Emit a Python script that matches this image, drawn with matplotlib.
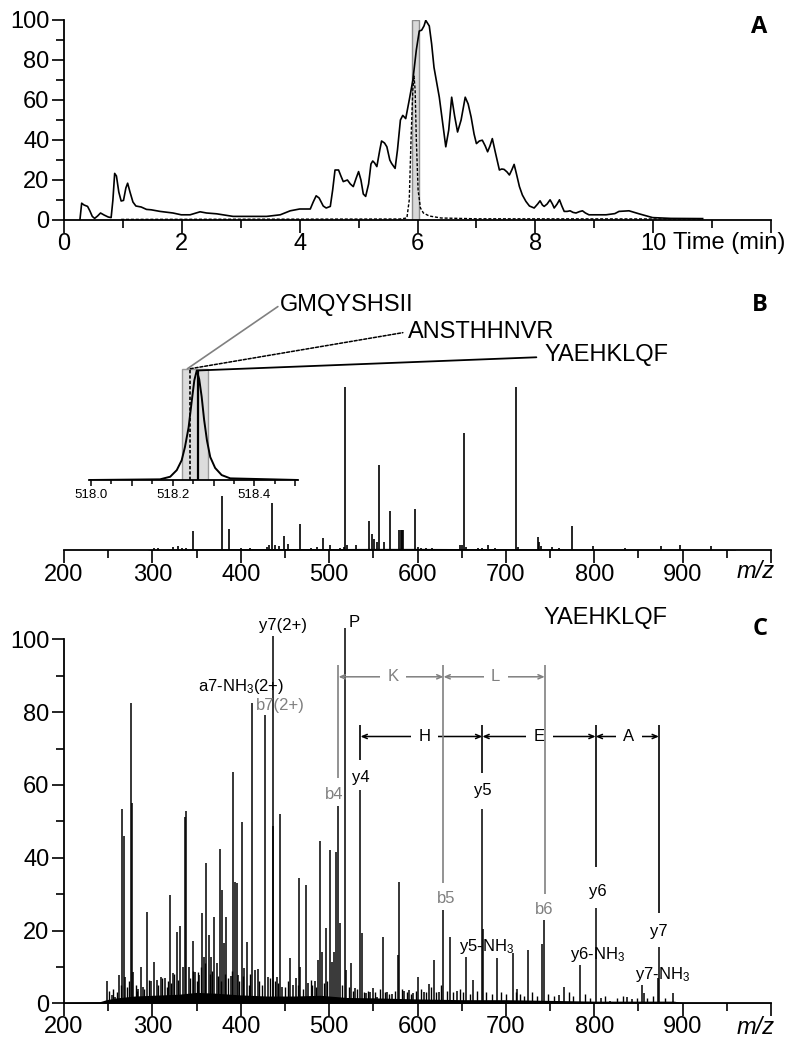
import matplotlib
matplotlib.use('Agg')
import matplotlib.pyplot as plt
from matplotlib.patches import Rectangle, ConnectionPatch
from matplotlib.ticker import MultipleLocator, FixedLocator

# ---------------- DATA ----------------
# Panel A: chromatograms (time in min, relative intensity %)
tic_t = [0.27, 0.30, 0.34, 0.40, 0.44, 0.48, 0.52, 0.57, 0.62, 0.68, 0.75, 0.80, 0.83, 0.86, 0.89,
         0.93, 0.97, 1.01, 1.05, 1.08, 1.12, 1.17, 1.22, 1.31, 1.40, 1.48, 1.63, 1.85, 1.99, 2.14,
         2.25, 2.31, 2.42, 2.59, 2.87, 3.44, 3.67, 3.84, 4.00, 4.18, 4.23, 4.28, 4.33, 4.40, 4.45,
         4.52, 4.56, 4.60, 4.66, 4.70, 4.74, 4.81, 4.86, 4.91, 4.96, 5.00, 5.04, 5.08, 5.12, 5.17,
         5.21, 5.24, 5.27, 5.31, 5.36, 5.39, 5.44, 5.48, 5.53, 5.56, 5.62, 5.66, 5.71, 5.75, 5.80,
         5.86, 5.92, 5.98, 6.03, 6.07, 6.11, 6.14, 6.20, 6.24, 6.28, 6.33, 6.37, 6.42, 6.48, 6.53,
         6.58, 6.63, 6.68, 6.74, 6.81, 6.86, 6.91, 6.96, 7.00, 7.05, 7.10, 7.15, 7.19, 7.23, 7.27,
         7.32, 7.39, 7.43, 7.47, 7.52, 7.56, 7.60, 7.64, 7.68, 7.73, 7.78, 7.84, 7.90, 7.98, 8.04,
         8.08, 8.12, 8.15, 8.20, 8.25, 8.29, 8.32, 8.37, 8.41, 8.45, 8.49, 8.54, 8.59, 8.64, 8.69,
         8.75, 8.80, 8.85, 8.91, 9.20, 9.35, 9.42, 9.59, 9.76, 9.99, 10.30, 10.84]
tic_v = [0.0, 8.4, 7.5, 6.8, 4.5, 1.8, 0.8, 2.0, 3.5, 2.5, 1.5, 1.2, 10.0, 23.3, 22.0,
         14.0, 9.5, 9.8, 16.0, 18.4, 14.0, 9.0, 7.0, 6.5, 5.3, 5.1, 4.3, 3.5, 2.6, 2.6,
         3.6, 4.1, 3.5, 3.1, 1.8, 1.8, 2.6, 4.6, 5.5, 5.5, 9.0, 12.1, 11.0, 7.0, 6.0,
         6.8, 15.0, 25.0, 25.0, 22.0, 19.2, 20.0, 18.0, 16.7, 21.0, 24.2, 20.0, 13.0, 11.8, 18.0,
         28.0, 29.5, 28.6, 26.7, 35.0, 39.5, 38.5, 36.6, 30.0, 28.3, 25.8, 35.0, 50.0, 52.3, 50.7,
         60.0, 69.7, 85.0, 94.5, 94.9, 97.0, 99.8, 97.0, 88.0, 76.3, 68.0, 61.4, 50.0, 36.6, 45.0,
         61.4, 52.0, 44.0, 50.0, 61.4, 58.0, 51.5, 43.0, 38.2, 39.5, 39.9, 37.0, 34.1, 37.0, 40.7,
         34.0, 25.0, 25.5, 25.3, 24.0, 22.5, 25.0, 27.8, 23.0, 16.7, 12.5, 9.3, 7.0, 6.0, 8.0,
         9.6, 7.5, 6.8, 8.0, 10.1, 8.0, 6.0, 8.0, 10.1, 7.0, 4.3, 4.3, 4.6, 3.8, 3.5,
         4.2, 4.6, 3.5, 2.6, 2.6, 3.2, 4.3, 4.6, 3.1, 1.2, 0.8, 0.7]
xic_t = [0.97, 5.70, 5.82, 5.86, 5.89, 5.92, 5.94, 5.96, 5.98, 6.01, 6.05, 6.10, 6.20, 6.40, 7.00, 10.84]
xic_v = [0.3, 0.5, 1.0, 10.0, 40.0, 65.0, 72.0, 65.0, 40.0, 15.0, 6.0, 3.5, 2.0, 1.0, 0.6, 0.5]
sel_window = [5.90, 6.03]

# Panel B: MS1 spectrum (m/z, relative intensity %)
ms1_mz = [302, 306, 323, 329, 333, 338, 345.5, 379, 386.5, 400, 411, 430, 432, 435.5, 439,
          443, 448.5, 453, 466.5, 480, 486, 493, 501, 512, 517, 518.3, 520, 530, 545, 548.6,
          551, 554, 556, 562, 568.4, 579.5, 581, 582.5, 584, 597.5, 600, 604, 610, 616, 648,
          650, 652.5, 655, 668, 673, 680, 688, 712, 714, 736.5, 738, 740, 752, 760, 775,
          799, 835, 875, 897, 932]
ms1_v = [1.5, 1.2, 2.0, 2.5, 1.5, 1.5, 11.7, 33.0, 13.0, 1.0, 1.2, 2.0, 3.0, 29.0, 3.0,
         2.5, 8.6, 3.5, 16.0, 1.0, 2.0, 7.5, 3.3, 1.5, 2.0, 100.0, 3.0, 3.0, 18.0, 9.6,
         7.0, 5.0, 52.0, 5.0, 24.0, 12.5, 12.0, 12.5, 12.0, 25.0, 2.0, 1.5, 1.0, 1.5, 3.0,
         3.0, 72.0, 2.0, 1.5, 1.5, 3.0, 1.5, 100.0, 2.0, 8.0, 5.0, 2.5, 2.0, 1.5, 15.0,
         2.5, 1.2, 2.5, 3.0, 2.5]
ms1_noise_mz = [295, 320, 400, 450, 500, 550, 600, 650, 700, 750, 800, 900, 960]
ms1_noise_v = [0.3, 0.6, 0.8, 0.9, 0.9, 1.0, 1.0, 0.9, 0.8, 0.7, 0.6, 0.5, 0.3]

# Panel B inset: isotope profile around m/z 518.26
prof_mz = [517.996, 518.169, 518.194, 518.210, 518.222, 518.230, 518.239, 518.247, 518.253,
           518.259, 518.265, 518.271, 518.277, 518.284, 518.292, 518.304, 518.320, 518.341, 518.508]
prof_v = [0.0, 0.6, 3.0, 9.0, 18.0, 30.0, 48.0, 73.0, 91.0,
          100.0, 92.0, 76.0, 55.0, 36.0, 21.0, 11.0, 4.5, 1.5, 0.0]
iso_window = [518.224, 518.286]
precursors = ['GMQYSHSII', 'ANSTHHNVR', 'YAEHKLQF']
precursor_mz = [518.236, 518.243, 518.261]

# Panel C: MS/MS spectrum of YAEHKLQF (m/z, relative intensity %)
ms2_mz = [249, 254, 258, 262.6, 266, 267.5, 269, 275.8, 277.3, 278.4, 284, 287, 289.7, 293.9, 299,
          301.8, 304.8, 309.3, 314.2, 319.9, 323.6, 327.4, 331.5, 334.2, 336.5, 338, 341, 345.5, 348.1, 353,
          356.4, 358.3, 361, 363.6, 366.2, 370, 372.6, 376.8, 379, 380.5, 383.6, 388.5, 391.5, 393, 395.2,
          396.4, 401, 404, 407, 413, 416, 419, 427.3, 431, 436, 437, 440.5, 444.6, 447, 456,
          459.3, 462.3, 466, 467.6, 473.3, 476.3, 483.8, 487.6, 490.2, 492, 496, 500.8, 502.7, 505.7, 508.3,
          509.8, 512, 518.3, 519.6, 525.3, 529.8, 535.5, 537, 542, 546, 549.8, 554.7, 561.1, 566, 571,
          577.7, 579.2, 585, 590, 595, 601.1, 607, 612.5, 618.6, 624, 629.2, 636.5, 645, 655.4, 662.9,
          672.7, 674, 690.5, 707.5, 713, 724.5, 740.5, 742.7, 760, 766.2, 783.5, 801.6, 808, 818, 837,
          843, 854.3, 855.8, 872, 873.2, 889]
ms2_v = [6.0, 2.3, 1.8, 7.8, 53.4, 46.0, 7.3, 82.4, 55.0, 8.7, 4.0, 10.0, 4.6, 25.2, 6.0,
         11.4, 6.4, 7.3, 6.9, 29.8, 8.2, 19.7, 21.3, 10.0, 51.3, 52.8, 10.0, 17.2, 8.7, 7.8,
         24.9, 12.8, 38.6, 18.8, 12.8, 23.6, 11.0, 42.5, 31.1, 16.5, 23.8, 7.5, 63.6, 33.4, 33.1,
         7.8, 49.9, 9.6, 16.8, 82.4, 9.2, 9.3, 79.1, 7.3, 48.7, 100.9, 7.3, 52.0, 4.6, 12.5,
         5.0, 6.9, 34.3, 10.0, 32.5, 5.5, 6.0, 11.9, 44.7, 14.2, 20.6, 42.1, 11.4, 14.2, 41.7,
         54.3, 22.0, 103.0, 9.2, 11.0, 4.1, 58.6, 19.2, 2.7, 3.0, 4.1, 1.8, 18.3, 3.0, 2.5,
         13.2, 33.4, 3.5, 3.7, 2.8, 7.3, 3.2, 5.2, 11.9, 3.0, 25.5, 18.2, 3.5, 12.7, 6.5,
         53.3, 20.3, 12.4, 13.7, 4.0, 14.7, 16.4, 23.0, 2.3, 4.6, 10.5, 26.3, 1.4, 0.7, 1.8,
         1.1, 5.0, 2.7, 6.9, 15.6, 2.7]
ms2_small_mz = [251, 256, 260, 264, 271, 273, 281, 283, 291, 296,
                306, 311, 316, 318, 321, 325, 329, 343, 346, 350,
                352, 355, 360, 365, 368, 374, 378, 382, 386, 390,
                398, 403, 409, 411, 421, 424, 433, 439, 442, 450,
                453, 465, 470, 479, 481, 485, 494, 498, 515, 522,
                527, 532, 539, 544, 552, 558, 563, 568, 574, 582,
                588, 593, 598, 604, 610, 615, 621, 627, 633, 640,
                648, 652, 659, 667, 678, 684, 695, 700, 711, 716,
                720, 729, 735, 748, 754, 771, 776, 790, 795, 812,
                826, 832, 848, 860, 866, 880]
ms2_small_v = [3.5, 4, 3, 5, 4.5, 6, 5, 3.5, 4, 6.5,
               5, 7, 4.5, 6, 5.5, 8, 6.5, 7, 9, 6,
               8.5, 10, 11, 8, 9, 7.5, 6, 8, 7, 9,
               6, 7.5, 5, 8, 6, 5, 7, 6, 5.5, 4.5,
               6, 5, 4, 6.5, 5, 4.5, 5.5, 6, 5, 4.5,
               3.5, 4, 3, 3.5, 3, 4, 3, 2.5, 3.5, 4,
               3, 2.5, 3.5, 4, 3, 4.5, 3, 5, 3.5, 3,
               4, 3, 2.5, 3.5, 3, 2.5, 3, 2.5, 3, 2.5,
               2, 3, 2, 2.5, 2, 3, 2, 2.5, 1.5, 2,
               1.5, 2, 1.5, 1.5, 2, 1.5]
ms2_noise_mz = [200, 240, 248, 260, 280, 300, 330, 350, 370, 400, 430, 460, 490, 520, 550,
                600, 650, 700, 750, 800, 850, 890, 900, 1000]
ms2_noise_v = [0.2, 0.4, 1.0, 1.5, 2.0, 2.2, 2.5, 3.0, 2.8, 2.3, 2.0, 2.0, 2.2, 1.6, 1.5,
               1.2, 1.0, 1.0, 0.8, 0.6, 0.6, 0.6, 0.2, 0.1]

# ---------------- STYLE ----------------
plt.rcParams['font.family'] = ['Liberation Sans', 'DejaVu Sans']
plt.rcParams['mathtext.fontset'] = 'custom'
plt.rcParams['mathtext.rm'] = 'Liberation Sans'
plt.rcParams['mathtext.it'] = 'Liberation Sans:italic'

W, H = 800, 1045
fig = plt.figure(figsize=(W / 100, H / 100), dpi=100)
GRAY = '#808080'
TICKFS = 17


def ax_px(l, r, t, b):
    return fig.add_axes([l / W, 1 - b / H, (r - l) / W, (b - t) / H])


def style_axis(ax, left=True):
    for s in ['top', 'right']:
        ax.spines[s].set_visible(False)
    ax.spines['left'].set_visible(left)
    for s in ['left', 'bottom']:
        ax.spines[s].set_linewidth(1.3)
    ax.tick_params(which='major', direction='out', length=9, width=1.2, labelsize=TICKFS, pad=1.5)
    ax.tick_params(which='minor', direction='out', length=5.5, width=1.2)
    if not left:
        ax.tick_params(axis='y', which='both', left=False, labelleft=False)


def ptext(px, py, s, **kw):
    fig.text(px / W, 1 - py / H, s, **kw)


# ---------------- PANEL A ----------------
axA = ax_px(64, 771, 20, 220)
axA.add_patch(Rectangle((sel_window[0], 0), sel_window[1] - sel_window[0], 100,
                        fc='#d9d9d9', ec='#8c8c8c', lw=1.0, zorder=1))
axA.plot(tic_t, tic_v, color='black', lw=1.2, zorder=3)
axA.plot(xic_t, xic_v, color='black', lw=1.0, ls=(0, (2.2, 1.3)), zorder=3)
axA.set_xlim(0, 12)
axA.set_ylim(0, 100)
style_axis(axA)
axA.xaxis.set_major_locator(FixedLocator([0, 2, 4, 6, 8, 10, 12]))
axA.xaxis.set_minor_locator(FixedLocator([1, 3, 5, 7, 9, 11]))
axA.set_xticklabels(['0', '2', '4', '6', '8', '10', ''])
axA.yaxis.set_major_locator(MultipleLocator(20))
axA.yaxis.set_minor_locator(MultipleLocator(10))
axA.tick_params(axis='x', pad=0.5)
ptext(673, 243, 'Time (min)', fontsize=TICKFS, ha='left', va='center')
ptext(759, 27, 'A', fontsize=17, fontweight='bold', family=['Open Sans', 'DejaVu Sans'],
      ha='center', va='center')

# ---------------- PANEL B ----------------
axB = ax_px(64, 771, 280, 550)
axB.fill_between(ms1_noise_mz, 0, ms1_noise_v, color='black', lw=0)
axB.vlines(ms1_mz, 0, ms1_v, color='black', lw=1.2)
axB.set_xlim(200, 1000)
axB.set_ylim(0, 165.6)
style_axis(axB, left=False)
axB.spines['bottom'].set_bounds(200, 1000)
axB.tick_params(which='major', length=9.5)
axB.tick_params(which='minor', length=6)
axB.xaxis.set_major_locator(FixedLocator(list(range(200, 1001, 100))))
axB.xaxis.set_minor_locator(FixedLocator(list(range(250, 1000, 100))))
axB.set_xticklabels([str(v) for v in range(200, 1000, 100)] + [''])
axB.tick_params(axis='x', pad=0.5)
ptext(756, 571, 'm/z', fontsize=TICKFS, fontstyle='italic', ha='center', va='center')
ptext(760, 305, 'B', fontsize=17, fontweight='bold', family=['Open Sans', 'DejaVu Sans'],
      ha='center', va='center')

# inset
axI = ax_px(89, 298, 365, 480)
axI.patch.set_alpha(0)
axI.add_patch(Rectangle((iso_window[0], 0), iso_window[1] - iso_window[0], 101.6,
                        fc='#dcdcdc', ec='#9a9a9a', lw=1.0, zorder=1))
axI.plot(prof_mz, prof_v, color='black', lw=1.4, zorder=3)
axI.vlines(precursor_mz[1], 0, 101.6, color='black', lw=1.2, ls=(0, (2, 1.2)), zorder=4)
axI.vlines(precursor_mz[2], 0, 100, color='black', lw=1.6, zorder=4)
axI.set_xlim(517.995, 518.507)
axI.set_ylim(0, 105)
for s in ['top', 'right', 'left']:
    axI.spines[s].set_visible(False)
axI.spines['bottom'].set_linewidth(1.3)
axI.tick_params(axis='y', which='both', left=False, labelleft=False)
axI.xaxis.set_major_locator(FixedLocator([518.0, 518.1, 518.2, 518.3, 518.4, 518.5]))
axI.xaxis.set_minor_locator(FixedLocator([518.05, 518.15, 518.25, 518.35, 518.45]))
axI.set_xticklabels(['518.0', '', '518.2', '', '518.4', ''])
axI.tick_params(which='major', direction='out', length=4.5, width=1.1, labelsize=9.5, pad=2)
axI.tick_params(which='minor', direction='out', length=3, width=1.1)

# connectors from inset to precursor labels
conn = [
    (precursor_mz[0], 101.6, 442.0, 149.3, GRAY, '-', 1.2),
    (precursor_mz[1], 101.6, 583.4, 133.3, 'black', (0, (2, 1.2)), 1.1),
    (precursor_mz[2], 100.0, 734.5, 118.2, 'black', '-', 1.3),
]
for x0, y0, x1, y1, c, ls, lw in conn:
    cp = ConnectionPatch(xyA=(x0, y0), coordsA=axI.transData, xyB=(x1, y1), coordsB=axB.transData,
                         color=c, ls=ls, lw=lw)
    fig.add_artist(cp)
axB.text(444.3, 150.3, precursors[0], fontsize=17, ha='left', va='center')
axB.text(589.0, 133.9, precursors[1], fontsize=17, ha='left', va='center')
axB.text(744.0, 119.6, precursors[2], fontsize=17, ha='left', va='center')

# ---------------- PANEL C ----------------
axC = ax_px(64, 771, 600, 1003.3)
axC.fill_between(ms2_noise_mz, 0, ms2_noise_v, color='black', lw=0)
axC.vlines(ms2_small_mz, 0, ms2_small_v, color='black', lw=1.0)
axC.vlines(ms2_mz, 0, ms2_v, color='black', lw=1.1)
axC.set_xlim(200, 1000)
axC.set_ylim(0, 110.8)
style_axis(axC)
axC.spines['left'].set_bounds(0, 100)
axC.spines['bottom'].set_bounds(200, 1000)
axC.yaxis.set_major_locator(FixedLocator([0, 20, 40, 60, 80, 100]))
axC.yaxis.set_minor_locator(FixedLocator([10, 30, 50, 70, 90]))
axC.xaxis.set_major_locator(FixedLocator(list(range(200, 1001, 100))))
axC.xaxis.set_minor_locator(FixedLocator(list(range(250, 1000, 100))))
axC.set_xticklabels([str(v) for v in range(200, 1000, 100)] + [''])
axC.tick_params(axis='x', pad=0.5)
ptext(756, 1027, 'm/z', fontsize=TICKFS, fontstyle='italic', ha='center', va='center')
ptext(760, 629, 'C', fontsize=17, fontweight='bold', family=['Open Sans', 'DejaVu Sans'],
      ha='center', va='center')
axC.text(812.3, 105.8, 'YAEHKLQF', fontsize=17, ha='center', va='center')

LFS = 12
labels = [
    ('y7(2+)', 447.6, 103.9, 'black'),
    ('P', 528.0, 104.5, 'black'),
    ('a7-NH$_3$(2+)', 400.0, 87.0, 'black'),
    ('b7(2+)', 444.3, 81.7, GRAY),
    ('b4', 506.0, 57.5, GRAY),
    ('y4', 536.0, 61.9, 'black'),
    ('b5', 632.0, 28.8, GRAY),
    ('b6', 743.0, 25.9, GRAY),
    ('y5', 674.0, 58.4, 'black'),
    ('y6', 804.0, 30.7, 'black'),
    ('y7', 873.2, 19.7, 'black'),
    ('y5-NH$_3$', 677.8, 15.7, 'black'),
    ('y6-NH$_3$', 804.3, 13.3, 'black'),
    ('y7-NH$_3$', 877.7, 8.0, 'black'),
]
for s, x, y, c in labels:
    axC.text(x, y, s, fontsize=LFS, color=c, ha='center', va='center', zorder=3)

# fragment marker lines
marks = [
    (510.6, 62.0, 93.0, GRAY), (629.4, 33.0, 93.0, GRAY), (744.0, 30.0, 93.0, GRAY),
    (535.5, 66.8, 76.4, 'black'), (673.4, 63.2, 76.4, 'black'),
    (801.6, 37.5, 76.4, 'black'), (873.2, 24.7, 76.4, 'black'),
]
for x, y0, y1, c in marks:
    axC.vlines(x, y0, y1, color=c, lw=1.2, zorder=5)

# residue arrows
arrows = [
    ('K', 510.6, 629.4, 89.7, 572.4, GRAY),
    ('L', 629.4, 744.0, 89.7, 688.5, GRAY),
    ('H', 535.5, 673.4, 73.3, 607.5, 'black'),
    ('E', 673.4, 801.6, 73.3, 738.0, 'black'),
    ('A', 801.6, 873.2, 73.3, 838.9, 'black'),
]
for s, x0, x1, y, xt, c in arrows:
    axC.annotate('', xy=(x1, y), xytext=(x0, y),
                 arrowprops=dict(arrowstyle='<->,head_length=0.35,head_width=0.15',
                                 color=c, lw=1.1, shrinkA=0, shrinkB=0), zorder=2)
    axC.text(xt, y, s, fontsize=LFS, color=c, ha='center', va='center', zorder=3,
             bbox=dict(boxstyle='square,pad=0.45', fc='white', ec='none'))

fig.savefig('out.png', dpi=100)
